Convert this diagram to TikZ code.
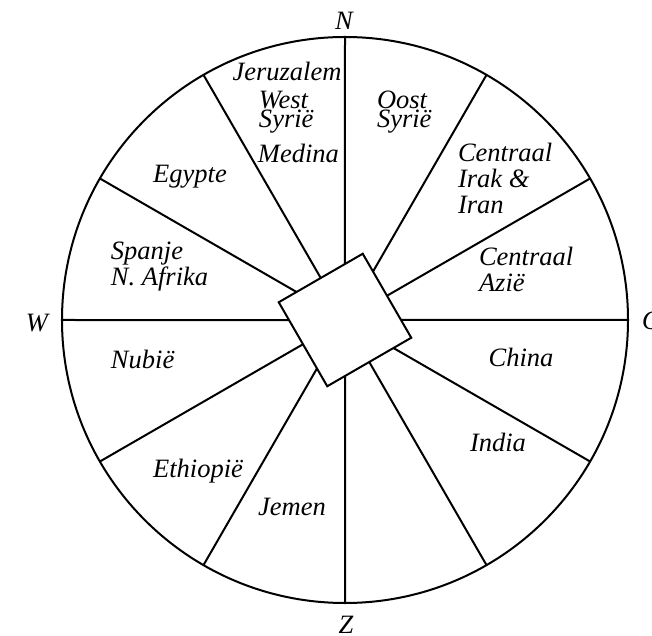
\documentclass[tikz,border=0pt]{standalone}
\usepackage{fontspec}
\setmainfont{Liberation Serif}
\tikzset{
  lbl/.style={font=\itshape\fontsize{26.5bp}{26bp}\selectfont, inner sep=0pt, align=left},
  tight/.style={font=\itshape\fontsize{26.5bp}{19bp}\selectfont},
  wind/.style={font=\itshape\fontsize{26.5bp}{26bp}\selectfont, inner sep=0pt}
}
\begin{document}
\begin{tikzpicture}[x=1bp,y=1bp,line width=2bp]
    \useasboundingbox (-345,-316) rectangle (307,320);
    \node[circle, draw, minimum size=566bp, outer sep=0pt] (rim) at (0,0) {};
    \node[rectangle, draw, minimum size=97bp, rotate=30, outer sep=0pt] (hub) at (0,0) {};
    \foreach \a in {0,30,...,330}
      \draw (hub) -- (rim.\a);
    \node[wind, anchor=base] (north) at (-1,290) {N};
    \node[wind, anchor=base] (west) at (-308,-12) {W};
    \node[wind, anchor=base west] (east) at (296,-10) {O};
    \node[wind, anchor=base] (south) at (1,-313) {Z};
    \node[lbl, anchor=base] (jeruzalem) at (-58,239) {Jeruzalem};
    \node[lbl, tight, anchor=base west] (westsyrie) at (-87,192) {West\\Syrië};
    \node[lbl, anchor=base west] (medina) at (-88,157) {Medina};
    \node[lbl, tight, anchor=base west] (oostsyrie) at (31,192) {Oost\\Syrië};
    \node[lbl, anchor=base] (egypte) at (-155,137) {Egypte};
    \node[lbl, anchor=base west] (irak) at (112,106) {Centraal\\Irak \&\\Iran};
    \node[lbl, anchor=base west] (azie) at (133,28) {Centraal\\Azië};
    \node[lbl, anchor=base west] (spanje) at (-235,34) {Spanje\\N. Afrika};
    \node[lbl, anchor=base west] (nubie) at (-235,-49) {Nubië};
    \node[lbl, anchor=base] (china) at (176,-47) {China};
    \node[lbl, anchor=base] (india) at (153,-132) {India};
    \node[lbl, anchor=base] (ethiopie) at (-147,-157) {Ethiopië};
    \node[lbl, anchor=base] (jemen) at (-53,-195) {Jemen};
\end{tikzpicture}
\end{document}
